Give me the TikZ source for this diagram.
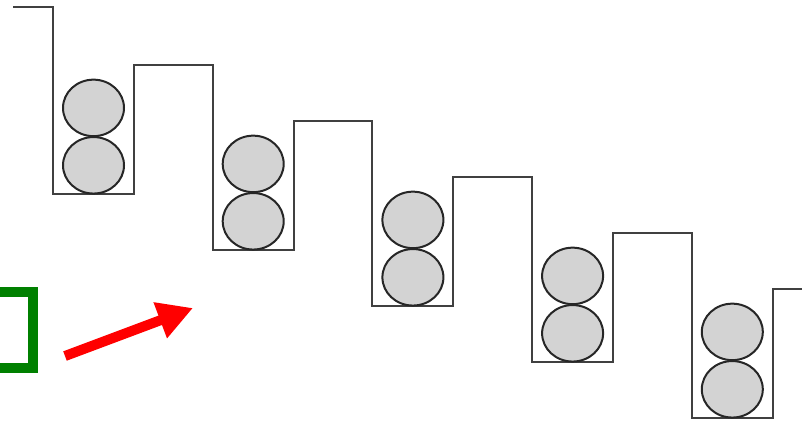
\documentclass[tikz,border=0pt]{standalone}
\usepackage{tikz}
\usetikzlibrary{arrows.meta, shapes.geometric}

\definecolor{verde}{RGB}{0,128,0}
\definecolor{cinza}{RGB}{211,211,211}

\begin{document}
\begin{tikzpicture}[
	x=1pt, y=-1pt,
	parede/.style={draw=black!75, line width=2pt},
	bola/.style={draw=black!85, fill=cinza, line width=2pt, ellipse,
		minimum width=61pt, minimum height=56.5pt, inner sep=0pt},
	seta/.style={-{Triangle[length=35pt, width=36pt]}, red, line width=10pt},
	caixa/.style={draw=verde, line width=10pt}
	]
	\useasboundingbox (0,0) rectangle (802,424);

	% degraus
	\draw[parede] (13,7) -- (53,7)
		\foreach \k in {0,...,4} {
			-- ({53+159.7*\k},{194+56*\k}) -- ({134+159.7*\k},{194+56*\k})
			-- ({134+159.7*\k},{65+56*\k}) -- ({212.7+159.7*\k},{65+56*\k})
		};

	% bolas
	\foreach \k in {0,...,4} {
		\node[bola] (baixo\k) at ({93.5+159.7*\k},{194+56*\k-28.7}) {};
		\node[bola] (cima\k) at ({93.5+159.7*\k},{194+56*\k-86.1}) {};
	}

	\draw[caixa] (-20,292) -- (33,292) -- (33,368) -- (-20,368);

	\coordinate (inicio) at (65,356);
	\coordinate (fim) at (193,308);
	\draw[seta] (inicio) -- (fim);
\end{tikzpicture}
\end{document}
